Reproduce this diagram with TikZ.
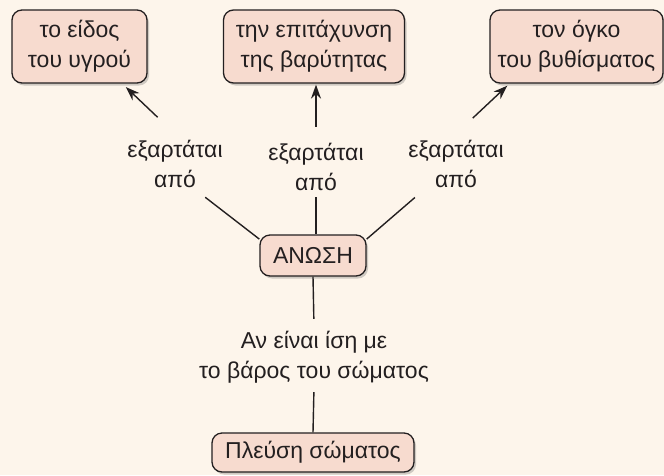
\documentclass[tikz,border=0pt]{standalone}
\usepackage{fontspec}
\setmainfont{Liberation Sans}
\usetikzlibrary{arrows.meta}
\usetikzlibrary{shadows}
\definecolor{paper}{RGB}{253,245,235}
\definecolor{boxfill}{RGB}{247,219,207}
\definecolor{ink}{RGB}{35,31,32}
\tikzset{>={Stealth[length=14pt,width=10pt]}}
\tikzset{
	concept/.style={draw=ink, fill=boxfill, line width=1.3pt, rounded corners=10pt,
		align=center, inner sep=0pt, text=ink,
		drop shadow={shadow xshift=2pt, shadow yshift=-2.5pt, opacity=0.3, fill=black!60}},
	relation/.style={align=center, inner sep=0pt, text=ink, minimum width=100pt, minimum height=60pt},
	link/.style={draw=ink, line width=1.4pt}
}

\begin{document}
\begin{tikzpicture}[x=1pt, y=-1pt, font=\fontsize{23}{30}\selectfont]
	\fill[paper] (0,0) rectangle (664,475);
	\useasboundingbox (0,0) rectangle (664,475);

	% top row
	\node[concept, minimum width=135pt, minimum height=73pt] (liquid) at (79.5,46.5) {το είδος\\του υγρού};
	\node[concept, minimum width=181pt, minimum height=73pt] (gravity) at (314,46.5) {την επιτάχυνση\\της βαρύτητας};
	\node[concept, minimum width=173pt, minimum height=73pt] (volume) at (576.5,46.5) {τον όγκο\\του βυθίσματος};

	% centre and bottom
	\node[concept, minimum width=106pt, minimum height=41pt] (anosi) at (313,255.5) {ΑΝΩΣΗ};
	\node[concept, minimum width=202pt, minimum height=39pt] (plefsi) at (313,452.5) {Πλεύση σώματος};

	% relation texts
	\node[relation] (depL) at (175,164) {εξαρτάται\\από};
	\node[relation] (depM) at (316,167) {εξαρτάται\\από};
	\node[relation] (depR) at (456,164) {εξαρτάται\\από};
	\node[relation] (equal) at (314,357) {Αν είναι ίση με\\το βάρος του σώματος};

	\draw[link, ->, shorten <=24pt, shorten >=5pt] (depL.north) -- (liquid.-41);
	\draw[link, ->, shorten <=10pt, shorten >=1pt] (depM.north) -- (depM.north |- gravity.south);
	\draw[link, ->, shorten <=23pt, shorten >=3pt] (depR.north) -- (volume.-151);

	\draw[link, shorten <=5pt] (depL.-49) -- (anosi.163);
	\draw[link] (depM.south) -- (depM.south |- anosi.north);
	\draw[link, shorten <=5pt] (depR.-141) -- (anosi.17);

	\draw[link, shorten >=8pt] (anosi.south) -- (equal.north);
	\draw[link, shorten <=5pt] (equal.south) -- (plefsi.north);
\end{tikzpicture}
\end{document}
